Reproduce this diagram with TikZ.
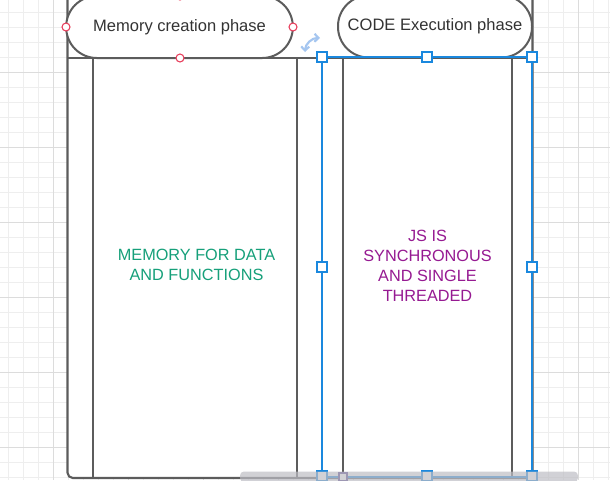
\documentclass[tikz,border=0pt]{standalone}
\usepackage{fontspec}
\setmainfont{Liberation Sans}
\usetikzlibrary{positioning,calc,arrows.meta}
\definecolor{lineGray}{RGB}{92,92,92}
\definecolor{labelGray}{RGB}{51,51,51}
\definecolor{memoryText}{RGB}{22,160,122}
\definecolor{threadText}{RGB}{150,26,146}
\definecolor{selectBlue}{RGB}{26,136,222}
\definecolor{rotateBlue}{RGB}{165,198,240}
\definecolor{pointRed}{RGB}{232,62,92}
\definecolor{pinPurple}{RGB}{80,60,140}
\definecolor{gridMinor}{RGB}{238,238,238}
\definecolor{gridMajor}{RGB}{220,220,220}
\definecolor{scrollGray}{RGB}{190,190,196}
\tikzstyle{frame}=[draw=lineGray, line width=1.6pt]
\tikzstyle{phase}=[draw=lineGray, line width=1.5pt, fill=white, rounded corners=23pt,
  minimum height=46.5pt, inner sep=0pt, text=labelGray, font=\fontsize{12.4}{15}\selectfont]
\tikzset{capsnote/.style={align=center, font=\fontsize{12.2}{15}\selectfont}}
\tikzset{handle/.style={draw=selectBlue, fill=white, line width=0.9pt, minimum size=7.5pt, inner sep=0pt}}
\tikzset{anchorpt/.style={circle, draw=pointRed, fill=white, line width=0.8pt, minimum size=6pt, inner sep=0pt}}
\begin{document}
\begin{tikzpicture}[x=0.75pt,y=-0.75pt]
  \useasboundingbox (0,0) rectangle (610,480);
  \clip (0,0) rectangle (610,480);
  %% Grid
  \foreach \gx in {8,23,...,608} \draw[gridMinor] (\gx,0) -- (\gx,480);
  \foreach \gy in {12,27,...,477} \draw[gridMinor] (0,\gy) -- (610,\gy);
  \foreach \gx in {53,128,...,578} \draw[gridMajor] (\gx,0) -- (\gx,480);
  \foreach \gy in {72,147,...,447} \draw[gridMajor] (0,\gy) -- (610,\gy);

  %% Container
  \fill[white] (67.5,-10) rectangle (532.5,478);
  \draw[frame, rounded corners=4pt] (67.5,-10) -- (67.5,478) -- (532.5,478) -- (532.5,-10);
  \draw[frame] (67.5,58) -- (532.5,58);
  \foreach \lx in {93,297,322,343,512} \draw[frame] (\lx,58) -- (\lx,478);

  %% Phases
  \node[phase, minimum width=170pt] (memphase) at (179.5,27) {Memory creation phase};
  \node[phase, minimum width=145.5pt] (codephase) at (435,26.5) {CODE Execution phase};

  %% Texts
  \node[capsnote, text=memoryText] (memtext) at (196.5,265) {MEMORY FOR DATA\\AND FUNCTIONS};
  \node[capsnote, text=threadText] (jstext) at (427.5,266) {JS IS\\SYNCHRONOUS\\AND SINGLE\\THREADED};

  %% Selection
  \draw[selectBlue, line width=1.2pt] (322,57) rectangle (532,477);
  \foreach \hx/\hy [count=\i] in {322/57,427/57,532/57,322/267,532/267,322/476,427/476,532/476}
    \node[handle] (hdl\i) at (\hx,\hy) {};
  \node[draw=pinPurple, fill=white, line width=0.8pt, minimum size=6pt, inner sep=0pt] (pin) at (343,477) {};
  \coordinate (rotA) at (305,52);
  \coordinate (rotB) at (320,38);
  \draw[rotateBlue, line width=1.6pt, {Straight Barb[length=3pt,width=6pt]}-{Straight Barb[length=3pt,width=6pt]}] (rotA) to[bend left=45] (rotB);

  %% Anchor points
  \foreach \px/\py [count=\i] in {66/27,293/27,180/58,180/-4}
    \node[anchorpt] (apt\i) at (\px,\py) {};

  %% Scroll bar
  \fill[scrollGray, opacity=0.7, rounded corners=3pt] (240,471.5) rectangle (578,482);
\end{tikzpicture}
\end{document}
